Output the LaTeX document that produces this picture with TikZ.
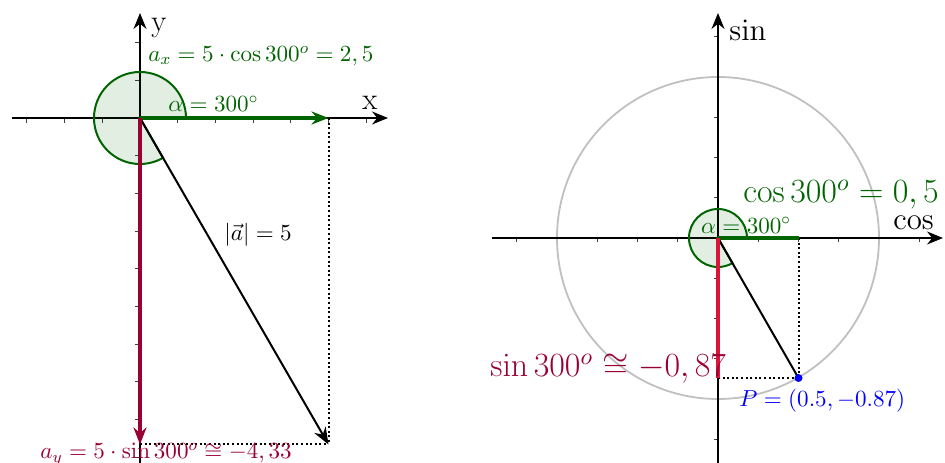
\RequirePackage{fix-cm}
\documentclass[tikz,border=0pt]{standalone}
\usetikzlibrary{arrows.meta}
\definecolor{mygreen}{RGB}{0,100,0}
\definecolor{mypurple}{RGB}{153,0,51}
\definecolor{mycrimson}{RGB}{220,20,60}
\definecolor{myblue}{RGB}{0,0,255}
\definecolor{mygray}{RGB}{192,192,192}
\tikzset{
  axis/.style={line width=0.8bp,-{Stealth[length=8bp,width=6.5bp]}},
  tickmark/.style={line width=0.5bp,black!75},
  vec/.style={-{Stealth[length=8.5bp,width=6.5bp]}},
  sector/.style={draw=mygreen,line width=1bp,fill=mygreen,fill opacity=0.11},
  dotline/.style={line width=1bp,dash pattern=on 1bp off 1.3bp},
  axlabel/.style={font=\fontsize{15.5}{19}\selectfont,inner sep=0pt,anchor=base west},
  biglabel/.style={font=\fontsize{17}{20}\selectfont,inner sep=0pt,anchor=base west},
  smalllabel/.style={font=\fontsize{11.6}{14}\selectfont,inner sep=0pt,anchor=base west},
}
\begin{document}
\begin{tikzpicture}[x=0.5bp,y=-0.5bp]
\useasboundingbox (0,0) rectangle (945,463);
% ---------------- Left diagram ----------------
\coordinate (O1) at (140,118);
\coordinate (X1l) at (12,118);
\coordinate (X1r) at (388,118);
\coordinate (Y1b) at (140,463);
\coordinate (Y1t) at (140,13);
\coordinate (Ax1) at (328.5,118);
\coordinate (Ay1) at (140,444.5);
\coordinate (A1) at (328.5,444.5);
% ticks
\foreach \k in {-3,-2,-1,1,2,3,4,5,6}
  \draw[tickmark] ({140+37.7*\k},118) -- ++(0,5);
\foreach \k in {-9,-8,-7,-6,-5,-4,-3,-2,-1,1,2}
  \draw[tickmark] (140,{118-37.7*\k}) -- ++(-5,0);
\draw[axis] (X1l) -- (X1r);
\draw[axis] (Y1b) -- (Y1t);
\draw[sector] (O1) -- ++(46,0) arc[start angle=0,end angle=-300,radius=46] -- cycle;
\draw[dotline] (Ax1) -- (A1);
\draw[dotline] (Ay1) -- (A1);
\draw[vec,line width=1bp] (O1) -- (A1);
\draw[vec,line width=1.8bp,mygreen] (O1) -- (Ax1);
\draw[vec,line width=1.8bp,mypurple] (O1) -- (Ay1);
\node[axlabel] (ly) at (151,32) {y};
\node[axlabel] (lx) at (362,110) {x};
\node[smalllabel,text=mygreen] (lax) at (148,61.5) {$a_x = 5\cdot\cos 300^o = 2,5$};
\node[smalllabel,text=mygreen] (lal1) at (168,111.5) {$\alpha = 300^\circ$};
\node[smalllabel] (lmod) at (224,241) {$|\vec{a}| = 5$};
\node[smalllabel,text=mypurple] (lay) at (40,459) {$a_y = 5\cdot\sin 300^o \cong -4,33$};
% ---------------- Right diagram ----------------
\coordinate (O2) at (718,238);
\coordinate (X2l) at (492,238);
\coordinate (X2r) at (943,238);
\coordinate (Y2b) at (718,463);
\coordinate (Y2t) at (718,13);
\coordinate (C2) at (798.5,238);
\coordinate (S2) at (718,378);
\coordinate (P) at (798.5,378);
\foreach \k in {-5,-4,-3,-2,-1,1,2,3,4,5}
  \draw[tickmark] ({718+40.25*\k},238) -- ++(0,4);
\foreach \k in {-5,-4,-3,-2,-1,1,2,3,4,5}
  \draw[tickmark] (718,{238-40.25*\k}) -- ++(-4,0);
\draw[mygray,line width=0.9bp] (O2) circle[radius=161];
\draw[axis] (X2l) -- (X2r);
\draw[axis] (Y2b) -- (Y2t);
\draw[sector] (O2) -- ++(29,0) arc[start angle=0,end angle=-300,radius=29] -- cycle;
\draw[dotline] (C2) -- (P);
\draw[dotline] (S2) -- (P);
\draw[line width=1bp] (O2) -- (P);
\draw[line width=1.8bp,mygreen] (O2) -- (C2);
\draw[line width=1.8bp,mycrimson] (O2) -- (S2);
\fill[myblue] (P) circle[radius=4];
\node[axlabel] (lsin) at (729,40.7) {$\sin$};
\node[axlabel] (lcos) at (893,230) {$\cos$};
\node[biglabel,text=mygreen] (lc300) at (743,202.7) {$\cos 300^o = 0,5$};
\node[smalllabel,text=mygreen] (lal2) at (700.7,233.3) {$\alpha = 300^\circ$};
\node[biglabel,text=mypurple] (ls300) at (490,376.7) {$\sin 300^o \cong -0,87$};
\node[smalllabel,text=myblue] (lP) at (739,406.7) {$P=(0.5,-0.87)$};
\end{tikzpicture}
\end{document}
